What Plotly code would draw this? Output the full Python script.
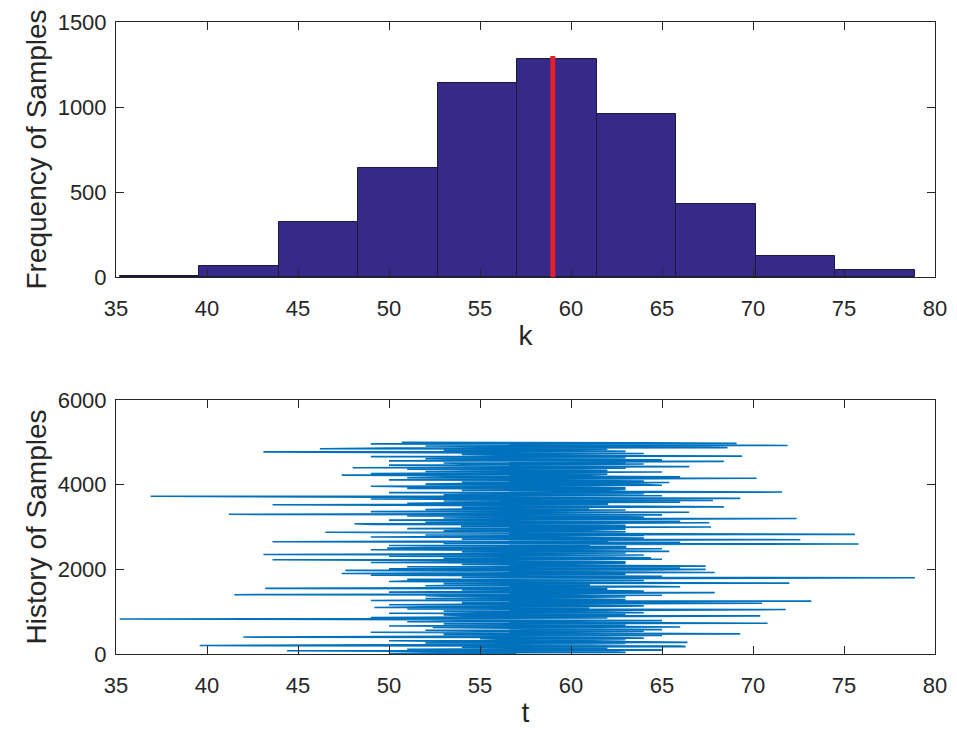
import plotly.graph_objects as go

# ---------------- data ----------------
bin_edges = [35.2, 39.57, 43.94, 48.31, 52.68, 57.05, 61.42, 65.79, 70.16, 74.53, 78.9]
bin_counts = [8, 65, 324, 641, 1141, 1282, 959, 429, 124, 43]
marker_k = 59.0
marker_top = 1300

sample_step = 12.5
# samples read at even positions (0, 25, 50, ...)
trace_values_even = [
    57, 52, 62, 44.4, 64.9, 55, 60, 66.3, 39.6, 58,
    63, 66.4, 53, 61, 56, 64, 42, 59, 62, 69.3,
    51.2, 60, 55, 65, 57, 52.4, 63, 58, 61, 70.8,
    54, 60, 56, 35.2, 62, 57, 70.4, 53, 59, 64,
    55, 60, 71.8, 56, 49.2, 62, 58, 54, 70.5, 57,
    73.2, 53, 61, 56, 63, 52, 41.5, 60, 67.9, 55,
    62, 57, 43.2, 59, 64, 54, 61, 72, 56, 50.9,
    63, 58, 78.9, 55, 60, 53, 47.4, 67.9, 57, 47.6,
    67.4, 56, 62, 67.4, 54, 60, 58, 63, 55, 43.6,
    61, 64.4, 57, 52, 43.1, 59, 62, 65.4, 56, 60,
    49.9, 63, 57, 61, 75.8, 54, 43.6, 62, 72.6, 56,
    60, 53, 64, 75.6, 58, 46.5, 61, 55, 63, 57,
    67.7, 54, 60, 48.1, 67.6, 56, 62, 58, 72.4, 55,
    61, 53, 41.2, 59, 66.5, 56, 63, 54, 60, 68.4,
    57, 43.6, 62, 55, 64, 67.8, 58, 69.3, 53, 36.9,
    61, 56, 60, 71.6, 55, 62, 57, 63, 51, 59,
    64, 54, 65.4, 58, 61, 56, 70.2, 53, 60, 47.4,
    62, 57, 65, 55, 59, 52, 48.0, 66.5, 56, 61,
    54, 63, 68.4, 57, 60, 53, 62, 69.4, 56, 59,
    55, 43.1, 61, 57, 46.2, 68.6, 55, 71.9, 58, 69.1,
    50.7,
]
# samples read at odd positions (12.5, 37.5, ...)
trace_values_odd = [
    50, 63, 53, 65, 51, 62, 54, 66, 49, 61,
    52, 64, 50, 63, 55, 62, 51, 65, 53, 61,
    49, 64, 52, 62, 54, 66, 50, 63, 53, 61,
    51, 65, 52, 62, 49, 64, 54, 63, 50, 62,
    53, 66, 51, 61, 52, 64, 50, 62, 54, 65,
    49, 63, 52, 61, 53, 65, 51, 62, 50, 64,
    54, 62, 49, 66, 52, 61, 53, 63, 50, 64,
    51, 62, 54, 65, 49, 63, 52, 61, 53, 64,
    50, 66, 51, 62, 54, 63, 49, 61, 52, 65,
    53, 62, 50, 64, 51, 63, 54, 61, 49, 65,
    52, 63, 50, 61, 53, 66, 51, 62, 54, 64,
    49, 62, 52, 65, 50, 63, 53, 61, 51, 64,
    54, 63, 49, 62, 52, 66, 50, 61, 53, 64,
    51, 65, 53, 62, 49, 63, 52, 61, 54, 64,
    50, 62, 51, 66, 53, 63, 49, 61, 52, 65,
    53, 64, 50, 62, 54, 63, 51, 61, 49, 65,
    52, 62, 54, 64, 50, 63, 51, 66, 53, 61,
    49, 65, 52, 62, 51, 63, 54, 61, 50, 64,
    53, 62, 50, 65, 52, 63, 49, 61, 54, 64,
    51, 63, 53, 62, 50, 66, 52, 61, 49, 64,
]

trace_values = []
for i, v in enumerate(trace_values_even):
    trace_values.append(v)
    if i < len(trace_values_odd):
        trace_values.append(trace_values_odd[i])
sample_index = [i * sample_step for i in range(len(trace_values))]

x_ticks = [35, 40, 45, 50, 55, 60, 65, 70, 75, 80]
y1_ticks = [0, 500, 1000, 1500]
y2_ticks = [0, 2000, 4000, 6000]

# ---------------- figure ----------------
bin_centers = [(a + b) / 2 for a, b in zip(bin_edges[:-1], bin_edges[1:])]
bin_widths = [b - a for a, b in zip(bin_edges[:-1], bin_edges[1:])]

fig = go.Figure()
fig.add_trace(go.Bar(
    x=bin_centers, y=bin_counts, width=bin_widths,
    marker=dict(color="#352A87", line=dict(color="#1a1a40", width=1)),
    xaxis="x", yaxis="y", showlegend=False,
))
fig.add_trace(go.Scatter(
    x=[marker_k, marker_k], y=[0, marker_top], mode="lines",
    line=dict(color="#E3202B", width=5),
    xaxis="x", yaxis="y", showlegend=False,
))
fig.add_trace(go.Scatter(
    x=trace_values, y=sample_index, mode="lines",
    line=dict(color="#0072BD", width=1.6),
    xaxis="x2", yaxis="y2", showlegend=False,
))

axis_col = "#262626"
tick_font = dict(family="Liberation Sans, Arial, sans-serif", size=22, color=axis_col)
title_font = dict(family="Liberation Sans, Arial, sans-serif", size=28, color=axis_col)

common_x = dict(
    range=[35, 80], tickvals=x_ticks, ticks="inside", ticklen=8, tickcolor=axis_col,
    showline=True, linecolor=axis_col, linewidth=1, mirror="ticks",
    showgrid=False, zeroline=False, tickfont=tick_font, automargin=False,
    ticklabelstandoff=12,
)
common_y = dict(
    ticks="inside", ticklen=8, tickcolor=axis_col,
    showline=True, linecolor=axis_col, linewidth=1, mirror="ticks",
    showgrid=False, zeroline=False, tickfont=tick_font, automargin=False,
    ticklabelstandoff=4,
)

xd = [116 / 957, 935 / 957]
fig.update_layout(
    width=957, height=734,
    margin=dict(l=0, r=0, t=0, b=0),
    paper_bgcolor="white", plot_bgcolor="white",
    bargap=0,
    xaxis=dict(domain=xd, anchor="y",
               title=dict(text="k", font=title_font, standoff=4), **common_x),
    yaxis=dict(domain=[1 - 277 / 734, 1 - 22 / 734], anchor="x", range=[0, 1500],
               tickvals=y1_ticks,
               title=dict(text="Frequency of Samples", font=title_font, standoff=2), **common_y),
    xaxis2=dict(domain=xd, anchor="y2",
                title=dict(text="t", font=title_font, standoff=4), **common_x),
    yaxis2=dict(domain=[1 - 654 / 734, 1 - 400 / 734], anchor="x2", range=[0, 6000],
                tickvals=y2_ticks,
                title=dict(text="History of Samples", font=title_font, standoff=2), **common_y),
)

fig.write_html("out.html")
